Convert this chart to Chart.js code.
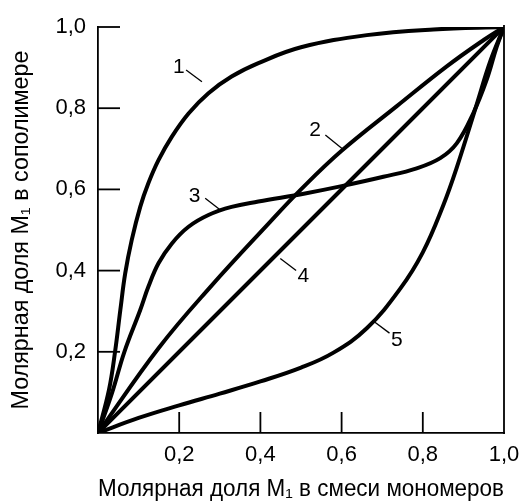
<!DOCTYPE html>
<html><head><meta charset="utf-8">
<script src="https://cdn.jsdelivr.net/npm/chart.js@4.4.0/dist/chart.umd.min.js"></script>
<style>html,body{margin:0;padding:0;background:#fff}#wrap{width:520px;height:501px}</style>
</head><body><div id="wrap"><canvas id="c" width="520" height="501"></canvas></div>
<script>
// ---- data ----
const curve1X = [0, 0.027, 0.042, 0.055, 0.067, 0.083, 0.104, 0.124, 0.149, 0.182, 0.223, 0.272, 0.329, 0.395, 0.5, 0.662, 0.826, 1.0];
const curve1Y = [0, 0.106, 0.2, 0.303, 0.393, 0.475, 0.557, 0.615, 0.672, 0.73, 0.787, 0.837, 0.878, 0.911, 0.95, 0.98, 0.994, 1.0];

const curve2X = [0, 0.15, 0.277, 0.424, 0.5, 0.6, 0.736, 0.859, 0.95, 1.0];
const curve2Y = [0, 0.21, 0.36, 0.52, 0.6, 0.695, 0.805, 0.903, 0.968, 1.0];

const curve3X = [0, 0.035, 0.065, 0.104, 0.124, 0.149, 0.182, 0.223, 0.272, 0.329, 0.395, 0.51, 0.6, 0.703, 0.785, 0.843, 0.884, 0.924, 0.957, 0.982, 1.0];
const curve3Y = [0, 0.1, 0.2, 0.303, 0.36, 0.418, 0.467, 0.508, 0.537, 0.557, 0.57, 0.59, 0.608, 0.631, 0.652, 0.677, 0.714, 0.787, 0.869, 0.951, 1.0];

const curve4X = [0, 0.5, 1.0];
const curve4Y = [0, 0.5, 1.0];

const curve5X = [0, 0.1, 0.2, 0.3, 0.4, 0.5, 0.58, 0.662, 0.744, 0.8, 0.85, 0.884, 0.933, 0.966, 1.0];
const curve5Y = [0, 0.037, 0.068, 0.097, 0.127, 0.161, 0.198, 0.258, 0.355, 0.445, 0.56, 0.655, 0.81, 0.915, 1.0];

const tickValues = [0, 0.2, 0.4, 0.6, 0.8, 1.0];
const tickLabels = ['', '0,2', '0,4', '0,6', '0,8', '1,0'];
const xTitle = 'Молярная доля M₁ в смеси мономеров';
const yTitle = 'Молярная доля M₁ в сополимере';

// curve numbers and their leader lines, in data coordinates
const curveNames = ['1', '2', '3', '4', '5'];
const nameX = [0.199, 0.535, 0.238, 0.506, 0.736];
const nameY = [0.902, 0.746, 0.584, 0.385, 0.229];
const leadX1 = [0.217, 0.560, 0.264, 0.449, 0.678];
const leadY1 = [0.894, 0.734, 0.578, 0.430, 0.276];
const leadX2 = [0.256, 0.601, 0.299, 0.488, 0.718];
const leadY2 = [0.865, 0.701, 0.551, 0.400, 0.246];

const FONT = "'Liberation Sans', Arial, sans-serif";
const pts = (xs, ys) => xs.map((x, i) => ({x: x, y: ys[i]}));
const mk = (xs, ys) => ({
  data: pts(xs, ys), borderColor: '#000', borderWidth: 4, pointRadius: 0,
  fill: false, tension: 0.4, borderCapStyle: 'round', borderJoinStyle: 'round'
});

const decor = {
  id: 'decor',
  afterDatasetsDraw(chart) {
    const ctx = chart.ctx, xs = chart.scales.x, ys = chart.scales.y;
    ctx.save();
    ctx.strokeStyle = '#000';
    ctx.lineWidth = 1.8;
    ctx.lineCap = 'butt';
    const x0 = xs.getPixelForValue(0), y0 = ys.getPixelForValue(0);
    tickValues.forEach(v => {
      if (v === 0) return;
      const yp = ys.getPixelForValue(v);
      ctx.beginPath(); ctx.moveTo(x0, yp); ctx.lineTo(x0 + 22, yp); ctx.stroke();
      const xp = xs.getPixelForValue(v);
      if (v < 1) { ctx.beginPath(); ctx.moveTo(xp, y0); ctx.lineTo(xp, y0 - 21); ctx.stroke(); }
    });
    // right frame line
    const xr = xs.getPixelForValue(1);
    ctx.beginPath(); ctx.moveTo(xr, ys.getPixelForValue(1) - 2); ctx.lineTo(xr, y0 + 1); ctx.stroke();
    // curve numbers
    ctx.lineWidth = 1.3;
    ctx.font = '21px ' + FONT;
    ctx.fillStyle = '#000';
    ctx.textAlign = 'center';
    ctx.textBaseline = 'middle';
    curveNames.forEach((n, i) => {
      ctx.beginPath();
      ctx.moveTo(xs.getPixelForValue(leadX1[i]), ys.getPixelForValue(leadY1[i]));
      ctx.lineTo(xs.getPixelForValue(leadX2[i]), ys.getPixelForValue(leadY2[i]));
      ctx.stroke();
      ctx.fillText(n, xs.getPixelForValue(nameX[i]), ys.getPixelForValue(nameY[i]));
    });
    ctx.restore();
  }
};

new Chart(document.getElementById('c'), {
  type: 'line',
  data: { datasets: [mk(curve1X, curve1Y), mk(curve2X, curve2Y), mk(curve3X, curve3Y), mk(curve4X, curve4Y), mk(curve5X, curve5Y)] },
  options: {
    responsive: false, animation: false, devicePixelRatio: 1,
    layout: { padding: { top: 27, right: 16, left: 0, bottom: 0 } },
    plugins: { legend: { display: false }, tooltip: { enabled: false } },
    scales: {
      x: {
        type: 'linear', min: 0, max: 1,
        afterBuildTicks: s => { s.ticks = tickValues.map(v => ({value: v})); },
        afterFit: s => { s.height = 68; s.paddingRight = 0; s.paddingLeft = 0; },
        grid: { display: false, drawTicks: false },
        border: { display: true, color: '#000', width: 1.8 },
        ticks: { color: '#000', font: { family: FONT, size: 22 }, padding: 9, maxRotation: 0, autoSkip: false,
                 callback: (v, i) => tickLabels[i] },
        title: { display: true, text: xTitle, color: '#000', font: { family: FONT, size: 23.3, lineHeight: 1 }, padding: { top: 0, bottom: 0 } }
      },
      y: {
        type: 'linear', min: 0, max: 1,
        afterBuildTicks: s => { s.ticks = tickValues.map(v => ({value: v})); },
        afterFit: s => { s.width = 98; s.paddingTop = 0; s.paddingBottom = 0; },
        grid: { display: false, drawTicks: false },
        border: { display: true, color: '#000', width: 1.8 },
        ticks: { color: '#000', font: { family: FONT, size: 22 }, padding: 12, autoSkip: false,
                 callback: (v, i) => tickLabels[i] },
        title: { display: true, text: yTitle, color: '#000', font: { family: FONT, size: 23.3, lineHeight: 1 }, padding: { top: 10, bottom: 0 } }
      }
    }
  },
  plugins: [decor]
});
</script></body></html>
